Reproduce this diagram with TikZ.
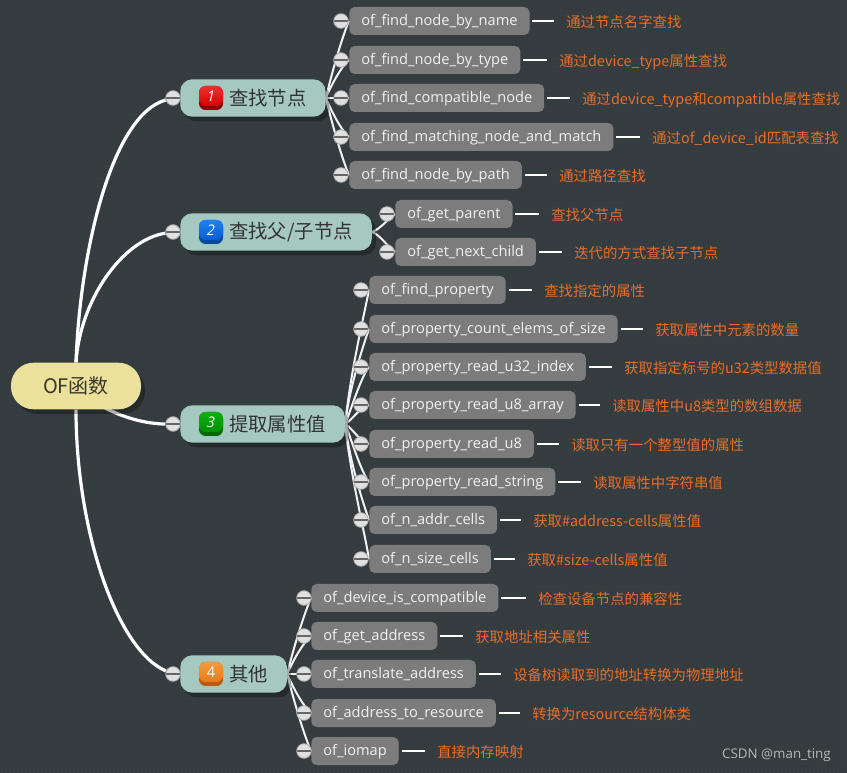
\documentclass[tikz,border=0pt]{standalone}
\usepackage{fontspec}
\setmainfont{Open Sans}
\newfontfamily\cjk{Noto Sans CJK SC}
\usetikzlibrary{backgrounds,shadows,patterns.meta}
\definecolor{bgdark}{HTML}{363D41}
\definecolor{rootfill}{HTML}{EBE19D}
\definecolor{subjfill}{HTML}{A5C8C1}
\definecolor{fnfill}{HTML}{7C7C7C}
\definecolor{notetext}{HTML}{E86E28}
\definecolor{redtop}{HTML}{F03030}\definecolor{redmid}{HTML}{D80000}\definecolor{redlow}{HTML}{8C0000}
\definecolor{bluetop}{HTML}{1E82F0}\definecolor{bluemid}{HTML}{0A5CD0}\definecolor{bluelow}{HTML}{004A9C}
\definecolor{greentop}{HTML}{10B010}\definecolor{greenmid}{HTML}{009000}\definecolor{greenlow}{HTML}{006A00}
\definecolor{orangetop}{HTML}{F59A3C}\definecolor{orangemid}{HTML}{E87A1A}\definecolor{orangelow}{HTML}{B85A10}
\tikzset{
  rootnode/.style={draw=none,fill=rootfill,rounded corners=17pt,minimum width=97.5pt,minimum height=35pt,
    font=\cjk\fontsize{15}{15}\selectfont,text=black!75!rootfill,drop shadow={shadow xshift=3pt,shadow yshift=-3.5pt,fill=black,opacity=.3}},
  subj/.style={anchor=west,fill=subjfill,rounded corners=9pt,minimum height=28pt,inner xsep=14.25pt,
    font=\cjk\fontsize{14.5}{15}\selectfont,text=black!80,execute at begin node=\hspace*{22.5pt},
    drop shadow={shadow xshift=3pt,shadow yshift=-3.5pt,fill=black,opacity=.3}},
  fn/.style={anchor=west,fill=fnfill,rounded corners=4pt,text=white!95!black,inner xsep=9pt,inner ysep=5pt,
    text height=9pt,text depth=2pt,font=\fontsize{10.95}{12}\selectfont},
  note/.style={anchor=west,inner sep=0pt,text=notetext,text height=11pt,text depth=1.3pt,font=\cjk\fontsize{10.8}{12}\selectfont},
  tog/.style={circle,draw=black!35,fill=white!88!black,line width=.6pt,minimum size=11pt,inner sep=0pt,
    path picture={\draw[black!60,line width=1.8pt] (path picture bounding box.west) -- (path picture bounding box.east);}},
  stub/.style={white,line width=1.5pt,shorten >=9pt,shorten <=2pt},
  fork/.style={white!95!black,line width=1.5pt},
  trunk/.style={white,line width=2.4pt},
  badgelow/.style={rounded corners=5pt,minimum size=18pt,inner sep=0pt},
  badge/.style={rounded corners=5pt,minimum width=18pt,minimum height=15pt,inner sep=0pt,yshift=1.5pt,text=white,
    font=\itshape\fontsize{11}{11}\selectfont},
}
\begin{document}
\begin{tikzpicture}[x=.75pt,y=.75pt]
  \useasboundingbox (0,0) rectangle (847,-773);

  \node[rootnode] (root) at (76,-386) {OF函数};

  % first group
  \node[subj] (sa) at (180,-98) {查找节点};
  \node[badgelow,fill=redlow] (ba) at (211,-98) {};
  \node[badge,top color=redtop,bottom color=redmid] at (211,-98) {1};
  \node[tog] (ta) at (173,-98) {};
  \node[fn] (fa) at (349,-21) {of\_find\_node\_by\_name};
  \node[fn] (fb) at (349,-60) {of\_find\_node\_by\_type};
  \node[fn] (fc) at (349,-98) {of\_find\_compatible\_node};
  \node[fn] (fd) at (349,-137) {of\_find\_matching\_node\_and\_match};
  \node[fn] (fe) at (349,-175) {of\_find\_node\_by\_path};
  \node[tog] (tfa) at (341,-21) {}; \node[tog] (tfb) at (341,-60) {};
  \node[tog] (tfc) at (341,-98) {}; \node[tog] (tfd) at (341,-137) {};
  \node[tog] (tfe) at (341,-175) {};
  \node[note] (la) at (566,-21) {通过节点名字查找};
  \node[note] (lb) at (559,-60) {通过device\_type属性查找};
  \node[note] (lc) at (582,-98) {通过device\_type和compatible属性查找};
  \node[note] (ld) at (652,-137) {通过of\_device\_id匹配表查找};
  \node[note] (le) at (559,-175) {通过路径查找};

  % second group
  \node[subj] (sb) at (180,-232) {查找父/子节点};
  \node[badgelow,fill=bluelow] (bb) at (211,-232) {};
  \node[badge,top color=bluetop,bottom color=bluemid] at (211,-232) {2};
  \node[tog] (tb) at (173,-232) {};
  \node[fn] (ga) at (395,-214) {of\_get\_parent};
  \node[fn] (gb) at (395,-252) {of\_get\_next\_child};
  \node[tog] (tga) at (387,-214) {}; \node[tog] (tgb) at (387,-252) {};
  \node[note] (ma) at (551,-214) {查找父节点};
  \node[note] (mb) at (574,-252) {迭代的方式查找子节点};

  % third group
  \node[subj] (sc) at (180,-424) {提取属性值};
  \node[badgelow,fill=greenlow] (bc) at (211,-424) {};
  \node[badge,top color=greentop,bottom color=greenmid] at (211,-424) {3};
  \node[tog] (tc) at (173,-424) {};
  \node[fn] (ha) at (369,-290) {of\_find\_property};
  \node[fn] (hb) at (369,-329) {of\_property\_count\_elems\_of\_size};
  \node[fn] (hc) at (369,-367) {of\_property\_read\_u32\_index};
  \node[fn] (hd) at (369,-405) {of\_property\_read\_u8\_array};
  \node[fn] (he) at (369,-444) {of\_property\_read\_u8};
  \node[fn] (hf) at (369,-482) {of\_property\_read\_string};
  \node[fn] (hg) at (369,-520) {of\_n\_addr\_cells};
  \node[fn] (hh) at (369,-559) {of\_n\_size\_cells};
  \node[tog] (tha) at (361,-290) {}; \node[tog] (thb) at (361,-329) {};
  \node[tog] (thc) at (361,-367) {}; \node[tog] (thd) at (361,-405) {};
  \node[tog] (the) at (361,-444) {}; \node[tog] (thf) at (361,-482) {};
  \node[tog] (thg) at (361,-520) {}; \node[tog] (thh) at (361,-559) {};
  \node[note] (na) at (544,-290) {查找指定的属性};
  \node[note] (nb) at (655,-329) {获取属性中元素的数量};
  \node[note] (nc) at (624,-367) {获取指定标号的u32类型数据值};
  \node[note] (nd) at (612,-405) {读取属性中u8类型的数组数据};
  \node[note] (ne) at (571,-444) {读取只有一个整型值的属性};
  \node[note] (nf) at (593,-482) {读取属性中字符串值};
  \node[note] (ng) at (533,-520) {获取\#address-cells属性值};
  \node[note] (nh) at (527,-559) {获取\#size-cells属性值};

  % fourth group
  \node[subj] (sd) at (180,-674) {其他};
  \node[badgelow,fill=orangelow] (bd) at (211,-674) {};
  \node[badge,top color=orangetop,bottom color=orangemid,font=\fontsize{11}{11}\selectfont] at (211,-674) {4};
  \node[tog] (td) at (173,-674) {};
  \node[fn] (ka) at (311,-598) {of\_device\_is\_compatible};
  \node[fn] (kb) at (311,-636) {of\_get\_address};
  \node[fn] (kc) at (311,-674) {of\_translate\_address};
  \node[fn] (kd) at (311,-713) {of\_address\_to\_resource};
  \node[fn] (ke) at (311,-751) {of\_iomap};
  \node[tog] (tka) at (304,-598) {}; \node[tog] (tkb) at (304,-636) {};
  \node[tog] (tkc) at (304,-674) {}; \node[tog] (tkd) at (304,-713) {};
  \node[tog] (tke) at (304,-751) {};
  \node[note] (pa) at (538,-598) {检查设备节点的兼容性};
  \node[note] (pb) at (475,-636) {获取地址相关属性};
  \node[note] (pc) at (513,-674) {设备树读取到的地址转换为物理地址};
  \node[note] (pd) at (532,-713) {转换为resource结构体类};
  \node[note] (pe) at (437,-751) {直接内存映射};

  \node[anchor=east,inner sep=0pt,text=white!72!black,font=\fontsize{10}{12}\selectfont] (mark) at (831,-755) {CSDN @man\_ting};

  \begin{pgfonlayer}{background}
    \fill[bgdark] (0,0) rectangle (847,-773);
    \fill[pattern={Dots[radius=.35pt,distance=3pt]},pattern color=black!40!bgdark] (0,0) rectangle (847,-773);

    \draw[trunk] (root.north) .. controls +(4,112) and +(-61,-17) .. (ta);
    \draw[trunk] (root.north) .. controls +(4,62) and +(-51,-8) .. (tb);
    \draw[trunk] (root.center) .. controls +(24,-26) and +(-33,0) .. (tc);
    \draw[trunk] (root.south) .. controls +(0,-121) and +(-56,24) .. (td);

    \draw[fork] (sa.east) .. controls +(6,25) and +(-7,-16) .. (fa.west);
    \draw[fork] (sa.east) .. controls +(6,14) and +(-8,-7) .. (fb.west);
    \draw[fork] (sa.east) -- (fc.west);
    \draw[fork] (sa.east) .. controls +(6,-14) and +(-8,7) .. (fd.west);
    \draw[fork] (sa.east) .. controls +(6,-25) and +(-7,16) .. (fe.west);

    \draw[fork] (sb.east) .. controls +(8,3) and +(-8,-6) .. (ga.west);
    \draw[fork] (sb.east) .. controls +(8,-3) and +(-8,6) .. (gb.west);

    \draw[fork] (sc.east) .. controls +(5,50) and +(-6,-30) .. (ha.west);
    \draw[fork] (sc.east) .. controls +(4,35) and +(-7,-20) .. (hb.west);
    \draw[fork] (sc.east) .. controls +(6,15) and +(-8,-10) .. (hc.west);
    \draw[fork] (sc.east) .. controls +(8,5) and +(-10,-3) .. (hd.west);
    \draw[fork] (sc.east) .. controls +(8,-5) and +(-10,3) .. (he.west);
    \draw[fork] (sc.east) .. controls +(6,-15) and +(-8,10) .. (hf.west);
    \draw[fork] (sc.east) .. controls +(4,-35) and +(-7,20) .. (hg.west);
    \draw[fork] (sc.east) .. controls +(5,-50) and +(-5,30) .. (hh.west);

    \draw[fork] (sd.east) .. controls +(6,25) and +(-7,-16) .. (ka.west);
    \draw[fork] (sd.east) .. controls +(6,14) and +(-8,-7) .. (kb.west);
    \draw[fork] (sd.east) -- (kc.west);
    \draw[fork] (sd.east) .. controls +(6,-14) and +(-8,7) .. (kd.west);
    \draw[fork] (sd.east) .. controls +(6,-25) and +(-7,16) .. (ke.west);

    \draw[stub] (fa.east) -- (la.west); \draw[stub] (fb.east) -- (lb.west);
    \draw[stub] (fc.east) -- (lc.west); \draw[stub] (fd.east) -- (ld.west);
    \draw[stub] (fe.east) -- (le.west);
    \draw[stub] (ga.east) -- (ma.west); \draw[stub] (gb.east) -- (mb.west);
    \draw[stub] (ha.east) -- (na.west); \draw[stub] (hb.east) -- (nb.west);
    \draw[stub] (hc.east) -- (nc.west); \draw[stub] (hd.east) -- (nd.west);
    \draw[stub] (he.east) -- (ne.west); \draw[stub] (hf.east) -- (nf.west);
    \draw[stub] (hg.east) -- (ng.west); \draw[stub] (hh.east) -- (nh.west);
    \draw[stub] (ka.east) -- (pa.west); \draw[stub] (kb.east) -- (pb.west);
    \draw[stub] (kc.east) -- (pc.west); \draw[stub] (kd.east) -- (pd.west);
    \draw[stub] (ke.east) -- (pe.west);
  \end{pgfonlayer}
\end{tikzpicture}
\end{document}
